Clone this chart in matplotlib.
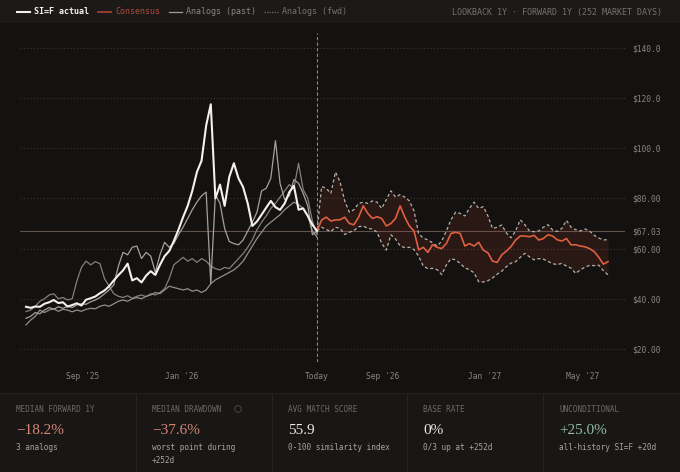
import numpy as np
import matplotlib.pyplot as plt
from matplotlib.patches import Rectangle, Circle

# trading-day index, 0 = today
past_days = np.arange(-252, 1, 4)
fwd_days = np.arange(0, 253, 4)

actual = [36.8, 36.4, 36.9, 36.8, 38.0, 38.6, 39.5, 38.3, 38.6, 36.9, 37.5, 38.2, 37.3, 39.6, 40.2, 40.9,
          42.2, 43.3, 45.0, 47.3, 49.4, 51.3, 54.0, 47.3, 48.2, 46.5, 49.2, 51.0, 49.5, 53.5, 57.0, 59.0,
          63.0, 67.5, 72.5, 77.0, 83.0, 90.5, 95.0, 109.0, 117.5, 80.0, 85.5, 77.0, 88.5, 94.0, 88.0, 84.5,
          78.0, 69.0, 70.8, 73.5, 76.3, 79.0, 76.5, 75.4, 78.0, 82.5, 85.0, 75.5, 76.0, 73.0, 69.5, 67.03]

analog_1 = [32.2, 33.0, 34.5, 34.0, 35.5, 36.5, 35.8, 36.8, 36.2, 37.0, 36.5, 37.5, 38.0, 37.8, 38.8, 39.5,
            40.5, 42.0, 43.5, 45.5, 53.0, 58.5, 57.5, 60.5, 61.0, 56.0, 58.5, 57.0, 50.5, 57.5, 62.5, 60.5,
            62.0, 65.5, 68.5, 72.0, 75.5, 78.5, 81.0, 82.5, 46.0, 81.5, 78.0, 68.0, 62.8, 62.0, 61.5, 63.4,
            67.0, 70.5, 74.5, 83.0, 84.0, 88.0, 103.0, 86.0, 79.5, 81.0, 87.5, 86.0, 82.0, 77.0, 65.5, 67.0]

analog_2 = [34.9, 35.5, 37.0, 39.0, 40.0, 41.5, 42.0, 40.0, 40.5, 39.5, 40.0, 47.0, 52.5, 55.0, 53.5, 54.8,
            54.0, 48.0, 45.0, 42.0, 41.0, 40.5, 41.2, 40.2, 41.0, 41.5, 40.8, 42.0, 41.5, 42.5, 44.0, 48.0,
            53.5, 55.0, 56.5, 55.0, 56.0, 54.5, 56.0, 55.0, 53.0, 52.0, 51.5, 52.5, 52.0, 54.0, 56.0, 58.0,
            60.5, 63.5, 67.5, 70.5, 73.0, 76.0, 78.0, 80.5, 83.0, 85.5, 84.0, 94.0, 83.5, 80.0, 71.0, 65.5]

analog_3 = [29.6, 31.5, 33.0, 35.5, 34.5, 35.5, 36.0, 35.0, 35.8, 35.5, 34.8, 35.5, 35.0, 35.8, 36.2, 36.0,
            37.0, 37.5, 37.0, 38.0, 39.0, 39.5, 39.0, 40.0, 40.5, 40.0, 41.0, 41.5, 42.5, 42.0, 43.5, 45.0,
            44.5, 44.0, 43.5, 44.0, 43.0, 43.5, 42.5, 43.5, 46.0, 47.5, 48.5, 49.5, 50.5, 51.5, 53.0, 55.0,
            58.0, 61.0, 64.0, 66.5, 69.0, 70.5, 72.0, 73.5, 75.5, 77.0, 78.5, 77.5, 76.0, 73.0, 67.0, 64.5]

consensus = [67.03, 71.4, 72.5, 71.0, 71.4, 71.5, 72.5, 70.0, 69.5, 72.5, 77.0, 74.0, 72.0, 72.7, 72.0, 69.0,
             70.0, 72.0, 77.0, 72.5, 69.0, 67.0, 59.5, 60.5, 58.5, 61.5, 60.5, 60.0, 62.0, 66.0, 66.5, 66.0,
             61.0, 62.0, 61.0, 62.5, 59.4, 58.3, 55.0, 54.5, 57.5, 59.0, 60.8, 63.4, 65.0, 65.0, 64.7, 65.3,
             63.4, 64.0, 65.5, 65.0, 63.5, 63.0, 64.0, 61.5, 61.5, 61.0, 60.7, 60.0, 58.8, 56.5, 53.8, 54.8]

band_hi = [67.03, 84.7, 84.0, 82.0, 90.5, 86.5, 79.0, 74.5, 75.5, 78.0, 78.5, 78.0, 79.0, 78.5, 76.0, 79.5,
           83.0, 80.5, 81.5, 80.5, 79.0, 75.0, 66.0, 64.1, 63.5, 62.3, 61.0, 63.0, 67.0, 71.5, 74.5, 74.0,
           73.0, 76.0, 78.5, 76.0, 76.7, 73.0, 68.0, 68.5, 69.4, 66.2, 64.3, 67.0, 71.5, 69.5, 67.0, 66.7,
           67.0, 68.5, 69.5, 67.4, 66.8, 68.0, 71.2, 68.5, 67.5, 67.0, 67.8, 67.0, 65.3, 64.2, 63.4, 63.6]

band_lo = [67.03, 68.5, 67.6, 66.8, 68.5, 68.0, 65.6, 66.5, 67.2, 68.7, 69.0, 68.0, 67.8, 66.5, 62.1, 59.4,
           65.5, 63.8, 61.0, 60.4, 60.5, 59.6, 57.0, 53.0, 52.0, 52.1, 51.6, 49.6, 53.5, 56.0, 55.5, 54.1,
           52.3, 51.6, 50.3, 46.8, 46.7, 47.2, 48.3, 49.8, 51.0, 52.8, 54.2, 54.8, 56.5, 58.1, 56.7, 55.5,
           56.0, 55.8, 54.9, 54.0, 53.6, 54.1, 53.0, 52.2, 50.1, 51.5, 52.6, 53.3, 53.2, 53.4, 51.2, 49.5]

current_price = 67.03
grid_prices = [20, 40, 60, 80, 100, 120, 140]
price_ticks = [20, 40, 60, 67.03, 80, 100, 120, 140]
price_labels = ["$20.00", "$40.00", "$60.00", "$67.03", "$80.00", "$100.0", "$120.0", "$140.0"]
month_days = [-203, -117, 0, 57, 145, 230]
month_labels = ["Sep '25", "Jan '26", "Today", "Sep '26", "Jan '27", "May '27"]

stat_titles = ["MEDIAN FORWARD 1Y", "MEDIAN DRAWDOWN", "AVG MATCH SCORE", "BASE RATE", "UNCONDITIONAL"]
stat_values = ["\u221218.2%", "\u221237.6%", "55.9", "0%", "+25.0%"]
stat_notes = ["3 analogs", "worst point during\n+252d", "0-100 similarity index",
              "0/3 up at +252d", "all-history SI=F +20d"]
stat_colors = ["#d98574", "#d98574", "#ece8e2", "#ece8e2", "#93bba6"]

MONO = "DejaVu Sans Mono"
BG = "#131211"

fig = plt.figure(figsize=(6.8, 4.72), dpi=100, facecolor=BG)

# background panels in pixel coordinates
bg = fig.add_axes([0, 0, 1, 1], zorder=0)
bg.set_xlim(0, 680)
bg.set_ylim(472, 0)
bg.axis("off")
bg.add_patch(Rectangle((0, 0), 680, 23, color="#1b1a19", lw=0))
bg.add_patch(Rectangle((0, 393), 680, 79, color="#181716", lw=0))
bg.plot([0, 680], [393, 393], color="#242220", lw=0.8)
for i in range(1, 5):
    bg.plot([i * 135.8, i * 135.8], [393, 472], color="#262422", lw=0.8)

bg.text(662, 12, "LOOKBACK 1Y \u00b7 FORWARD 1Y (252 MARKET DAYS)", ha="right", va="center",
        fontsize=6, family=MONO, color="#76716c")

for i in range(5):
    x = 16 + i * 135.8
    bg.text(x, 409, stat_titles[i], fontsize=5.5, family=MONO, color="#6e6a65", va="center")
    bg.text(x, 430, stat_values[i], fontsize=11, family="Liberation Serif", color=stat_colors[i],
            va="center")
    bg.text(x, 443, stat_notes[i], fontsize=5.6, family=MONO, color="#a9a49e", va="top",
            linespacing=1.55)
bg.add_patch(Circle((238, 409), 3.3, fill=False, ec="#4a4643", lw=0.7))

# main chart
ax = fig.add_axes([20 / 680, 1 - 362 / 472, 605 / 680, 329 / 472], zorder=1)
ax.set_facecolor("none")
ax.set_xlim(-257.2, 266.7)
ax.set_ylim(14.8, 145.9)

for p in grid_prices:
    ax.axhline(p, color="#3a3734", lw=0.8, ls=(0, (1, 2)), zorder=1)
ax.axhline(current_price, color="#5e524b", lw=0.8, zorder=2)
ax.axvline(0, color="#8a857f", lw=0.8, ls=(0, (3, 2)), zorder=2)

ax.plot(past_days, analog_2, color="#858079", lw=0.9, zorder=3)
ax.plot(past_days, analog_3, color="#948e88", lw=0.9, zorder=3)
l_past, = ax.plot(past_days, analog_1, color="#a6a09a", lw=0.9, zorder=3, label="Analogs (past)")
l_act, = ax.plot(past_days, actual, color="#f4f1ec", lw=1.5, zorder=5, label="SI=F actual")

ax.fill_between(fwd_days, band_lo, band_hi, color="#c2482e", alpha=0.13, lw=0, zorder=2)
l_fwd, = ax.plot(fwd_days, band_hi, color="#b8b1a9", lw=0.9, ls=(0, (2.5, 2)), zorder=3,
                 label="Analogs (fwd)")
ax.plot(fwd_days, band_lo, color="#b8b1a9", lw=0.9, ls=(0, (2.5, 2)), zorder=3)
l_con, = ax.plot(fwd_days, consensus, color="#dd6040", lw=1.2, zorder=4, label="Consensus")

for s in ax.spines.values():
    s.set_visible(False)
ax.yaxis.tick_right()
ax.set_yticks(price_ticks, price_labels)
ax.set_xticks(month_days, month_labels)
ax.tick_params(axis="both", length=0, labelsize=5.7, labelcolor="#8a857f")
ax.tick_params(axis="y", pad=5)
ax.tick_params(axis="x", pad=7)
for t in ax.get_xticklabels() + ax.get_yticklabels():
    t.set_family(MONO)

leg = fig.legend([l_act, l_con, l_past, l_fwd],
                 ["SI=F actual", "Consensus", "Analogs (past)", "Analogs (fwd)"],
                 loc="center left", bbox_to_anchor=(17 / 680, 1 - 12 / 472), ncol=4, frameon=False,
                 prop={"family": MONO, "size": 6}, handlelength=1.6, handletextpad=0.5,
                 columnspacing=1.0, borderpad=0, borderaxespad=0)
leg.set_zorder(3)
leg_colors = ["#f4f1ec", "#b4473a", "#8a857f", "#76716c"]
for t, c in zip(leg.get_texts(), leg_colors):
    t.set_color(c)
leg.get_texts()[0].set_fontweight("bold")
leg.get_lines()[1].set_color("#b04030")
leg.get_lines()[3].set_linestyle((0, (1, 1)))
leg.get_lines()[3].set_color("#6e6a65")

fig.savefig("out.png", dpi=100, facecolor=BG)
